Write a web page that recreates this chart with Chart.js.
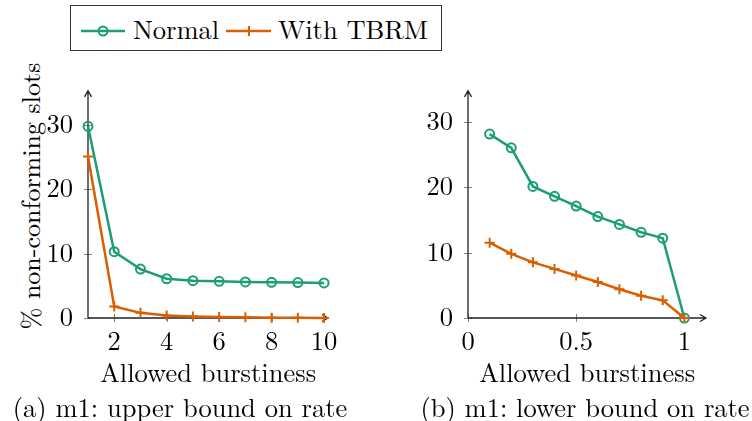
<!DOCTYPE html>
<html>
<head>
<meta charset="utf-8">
<script src="https://cdn.jsdelivr.net/npm/chart.js@4.4.1/dist/chart.umd.min.js"></script>
<style>
  body { margin: 0; width: 752px; height: 421px; background: #fff; position: relative; overflow: hidden; color: #000; }
  .tx { font-family: "Latin Modern Roman", "Liberation Serif", serif; }
  canvas { position: absolute; top: 60px; }
  #legend { position: absolute; left: 70px; top: 5px; width: 370px; height: 44px; border: 1px solid #333; }
  #legend svg { position: absolute; top: 0; left: 0; }
  .lg { position: absolute; top: 5px; font-size: 26.5px; line-height: 34px; white-space: nowrap; }
  #ytitle { position: absolute; left: 30px; top: 196px; width: 300px; text-align: center; font-size: 26px;
            line-height: 26px; transform: translate(-50%, -50%) rotate(-90deg); white-space: nowrap; }
  .cap { position: absolute; top: 392px; width: 376px; text-align: center; font-size: 26.5px; line-height: 28px;
         white-space: nowrap; }
</style>
</head>
<body>
<div id="legend">
  <svg width="370" height="44">
    <line x1="10" y1="25" x2="54" y2="25" stroke="#1b9e77" stroke-width="2.5"/>
    <circle cx="32" cy="25" r="4.5" fill="none" stroke="#1b9e77" stroke-width="2"/>
    <line x1="155" y1="25" x2="200" y2="25" stroke="#d95f02" stroke-width="2.5"/>
    <path d="M178 20 V30 M173 25 H183" stroke="#d95f02" stroke-width="2"/>
  </svg>
  <span class="lg tx" style="left:62px; font-family:'Latin Modern Roman'">Normal</span>
  <span class="lg tx" style="left:207px; font-family:'Latin Modern Roman'">With TBRM</span>
</div>
<div id="ytitle" class="tx" style="font-family:'Latin Modern Roman'">% non-conforming slots</div>
<canvas id="chartA" width="376" height="330" style="left:0"></canvas>
<canvas id="chartB" width="376" height="330" style="left:376px"></canvas>
<div class="cap tx" style="left:-8px; font-family:'Latin Modern Roman'">(a) m1: upper bound on rate</div>
<div class="cap tx" style="left:397px; font-family:'Latin Modern Roman'">(b) m1: lower bound on rate</div>

<script>
// (a) upper bound on rate
const burstA = [1, 2, 3, 4, 5, 6, 7, 8, 9, 10];
const normalA = [29.8, 10.3, 7.6, 6.1, 5.8, 5.7, 5.6, 5.55, 5.5, 5.45];
const tbrmA = [25.1, 1.8, 0.8, 0.4, 0.25, 0.15, 0.1, 0.05, 0.03, 0.0];
const xTicksA = [2, 4, 6, 8, 10];

// (b) lower bound on rate
const burstB = [0.1, 0.2, 0.3, 0.4, 0.5, 0.6, 0.7, 0.8, 0.9, 1.0];
const normalB = [28.1, 26.0, 20.1, 18.6, 17.1, 15.5, 14.3, 13.1, 12.2, 0];
const tbrmB = [11.5, 9.8, 8.5, 7.5, 6.5, 5.5, 4.4, 3.4, 2.7, 0];
const xTicksB = [0, 0.5, 1];

const yTicks = [0, 10, 20, 30];
const xTitle = "Allowed burstiness";

const GREEN = "#1b9e77";
const ORANGE = "#d95f02";
const FONT = "'Latin Modern Roman', 'Liberation Serif', serif";

Chart.defaults.font.family = FONT;
Chart.defaults.color = "#000";

// pgfplots style axes: lines with arrow heads and small crossing ticks
const pgfAxes = {
  id: "pgfAxes",
  beforeDatasetsDraw(chart) {
    const { ctx, chartArea: a, scales: { x, y } } = chart;
    ctx.save();
    ctx.strokeStyle = "#888";
    ctx.lineWidth = 1;
    ctx.beginPath();
    x.ticks.forEach(t => {
      const px = Math.round(x.getPixelForValue(t.value)) + 0.5;
      ctx.moveTo(px, a.bottom - 4);
      ctx.lineTo(px, a.bottom + 4);
    });
    y.ticks.forEach(t => {
      const py = Math.round(y.getPixelForValue(t.value)) + 0.5;
      ctx.moveTo(a.left - 4, py);
      ctx.lineTo(a.left + 4, py);
    });
    ctx.stroke();

    ctx.strokeStyle = "#222";
    ctx.lineWidth = 1.3;
    ctx.beginPath();
    ctx.moveTo(a.left, a.bottom);
    ctx.lineTo(a.right, a.bottom);
    ctx.moveTo(a.left, a.bottom);
    ctx.lineTo(a.left, a.top);
    // arrow heads
    ctx.moveTo(a.right - 6, a.bottom - 3.5);
    ctx.lineTo(a.right, a.bottom);
    ctx.lineTo(a.right - 6, a.bottom + 3.5);
    ctx.moveTo(a.left - 3.5, a.top + 6);
    ctx.lineTo(a.left, a.top);
    ctx.lineTo(a.left + 3.5, a.top + 6);
    ctx.stroke();
    ctx.restore();
  }
};

function makeChart(id, xs, normal, tbrm, xTicks, xMin, xMax, yMax, yWidth, rightPad) {
  const ctx = document.getElementById(id).getContext("2d");
  return new Chart(ctx, {
    type: "scatter",
    data: {
      datasets: [
        {
          label: "Normal",
          data: xs.map((x, i) => ({ x: x, y: normal[i] })),
          showLine: true,
          borderColor: GREEN,
          borderWidth: 2.5,
          pointStyle: "circle",
          pointRadius: 4.5,
          pointBorderWidth: 2,
          pointBackgroundColor: "rgba(0,0,0,0)",
          pointBorderColor: GREEN,
          tension: 0,
          clip: false,
          order: 1,
        },
        {
          label: "With TBRM",
          data: xs.map((x, i) => ({ x: x, y: tbrm[i] })),
          showLine: true,
          borderColor: ORANGE,
          borderWidth: 2.5,
          pointStyle: "cross",
          pointRadius: 5,
          pointBorderWidth: 2,
          pointBorderColor: ORANGE,
          tension: 0,
          clip: false,
          order: 0,
        },
      ],
    },
    options: {
      responsive: false,
      animation: false,
      layout: { padding: { top: 21, right: rightPad, bottom: 0, left: 0 } },
      scales: {
        x: {
          type: "linear",
          min: xMin,
          max: xMax,
          grid: { display: false, drawTicks: false },
          border: { display: false },
          afterBuildTicks: (s) => { s.ticks = xTicks.map(v => ({ value: v })); },
          afterFit: (s) => { s.height = 72; },
          ticks: { font: { size: 26.5 }, padding: 8, maxRotation: 0, autoSkip: false,
                   callback: (v) => String(v) },
          title: { display: true, text: xTitle, font: { size: 26.5 }, padding: { top: 0, bottom: 0 } },
        },
        y: {
          min: 0,
          max: yMax,
          grid: { display: false, drawTicks: false },
          border: { display: false },
          afterBuildTicks: (s) => { s.ticks = yTicks.map(v => ({ value: v })); },
          afterFit: (s) => { s.width = yWidth; },
          ticks: { font: { size: 26.5 }, padding: 15, callback: (v) => String(v) },
        },
      },
      plugins: {
        legend: { display: false },
        tooltip: { enabled: false },
      },
    },
    plugins: [pgfAxes],
  });
}

function drawAll() {
  makeChart("chartA", burstA, normalA, tbrmA, xTicksA, 1, 10.15, 35.3, 88, 48);
  makeChart("chartB", burstB, normalB, tbrmB, xTicksB, 0, 1.1, 34.7, 92, 46);
}

document.fonts.load("26px 'Latin Modern Roman'").then(drawAll, drawAll);
</script>
</body>
</html>
